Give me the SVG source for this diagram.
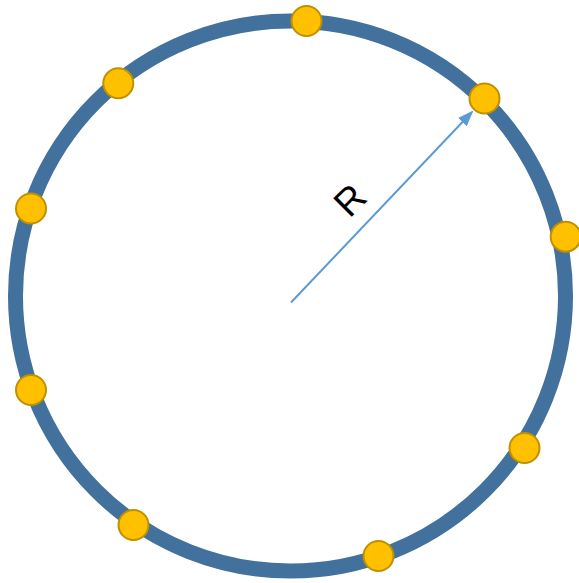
<svg xmlns="http://www.w3.org/2000/svg" width="579" height="583" viewBox="0 0 579 583">
<style>
.ring{fill:none;stroke:#41719C;stroke-width:15}
.dot{fill:#FFC000;stroke:#BF9000;stroke-width:2}
.arr{stroke:#5B9BD5;stroke-width:2;fill:none}
.lbl{font-family:"Liberation Sans",Arial,sans-serif;font-size:38px;fill:#000}
</style>
<defs>
<marker id="ah" markerWidth="16" markerHeight="12" refX="14" refY="6" orient="auto" markerUnits="userSpaceOnUse" viewBox="0 0 16 12">
<path d="M0,0 L16,6 L0,12 Z" fill="#5B9BD5"/>
</marker>
</defs>
<rect width="579" height="583" fill="#fff"/>
<g id="ring"><circle class="ring" cx="290.5" cy="296" r="275"/></g>
<g id="connectors">
<line class="arr" x1="291" y1="302.5" x2="472" y2="112" marker-end="url(#ah)"/>
</g>
<g id="label"><text class="lbl" x="350" y="200" text-anchor="middle" dominant-baseline="central" transform="rotate(-45 350 200)">R</text></g>
<g id="dots">
<circle id="d1" class="dot" cx="306.5" cy="21" r="15"/>
<circle id="d2" class="dot" cx="118.3" cy="83.3" r="15"/>
<circle id="d3" class="dot" cx="484.5" cy="98.5" r="15"/>
<circle id="d4" class="dot" cx="31" cy="208.5" r="15"/>
<circle id="d5" class="dot" cx="565.7" cy="236.7" r="15"/>
<circle id="d6" class="dot" cx="31" cy="390" r="15"/>
<circle id="d7" class="dot" cx="524.5" cy="448" r="15"/>
<circle id="d8" class="dot" cx="133.5" cy="525" r="15"/>
<circle id="d9" class="dot" cx="378.5" cy="556" r="15"/>
</g>
</svg>
